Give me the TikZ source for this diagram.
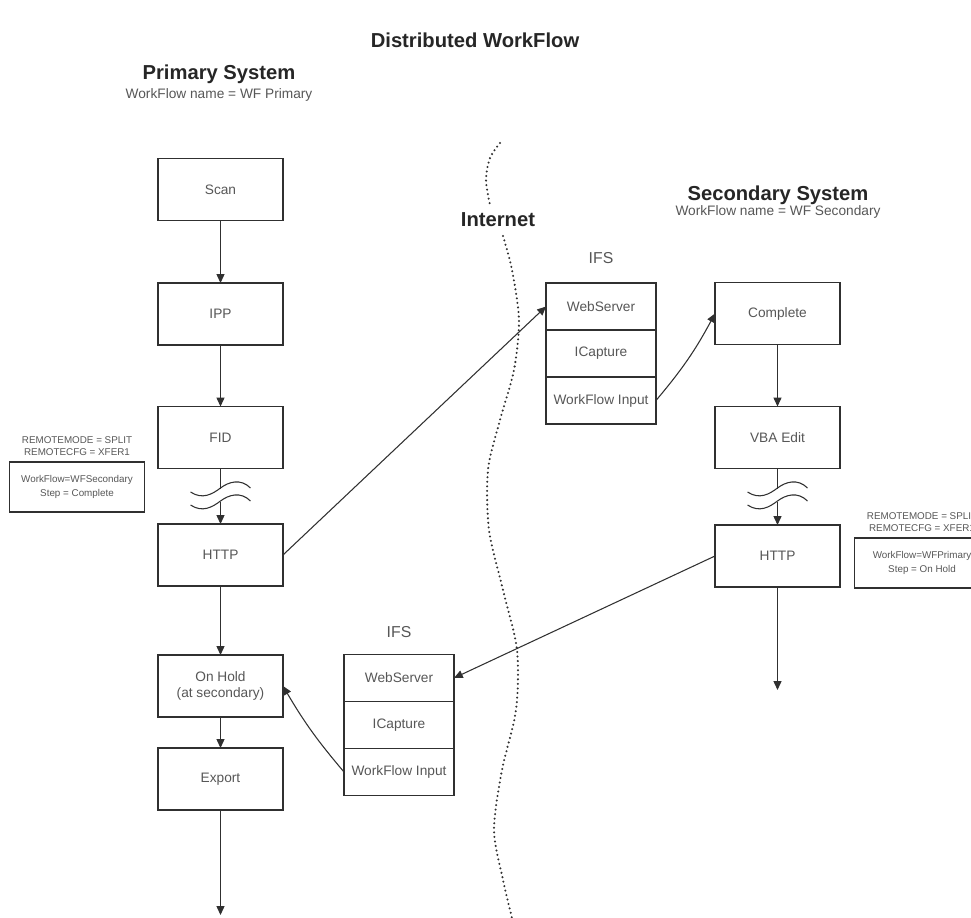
\documentclass[tikz,border=0pt]{standalone}
\usepackage{fontspec}
\setmainfont{Liberation Sans}
\usetikzlibrary{arrows.meta,positioning}
\definecolor{Ink}{HTML}{262626}
\definecolor{Label}{HTML}{575757}
\definecolor{Edge}{HTML}{303030}

\begin{document}
\begin{tikzpicture}[x=0.02cm,y=-0.02cm,every node/.style={font=\fontsize{7.8}{9.5}\selectfont,text=Label},
  box/.style={draw=Edge,line width=1pt,minimum width=2.5cm,minimum height=1.24cm,outer sep=0pt},
  ifsrow/.style={draw=Edge,line width=1pt,minimum width=2.2cm,minimum height=0.94cm,inner sep=0pt,outer sep=0pt},
  note/.style={draw=Edge,line width=0.9pt,minimum width=2.7cm,minimum height=1cm,align=center,inner sep=1pt,font=\fontsize{5.6}{7.5}\selectfont},
  notehd/.style={align=center,inner sep=1pt,font=\fontsize{5.6}{6.8}\selectfont},
  hd/.style={font=\fontsize{11.5}{13}\selectfont\bfseries,text=Ink},
  link/.style={draw=Edge,line width=0.6pt},
  flow/.style={link,-{Triangle[length=5pt,width=4.5pt]}},
  brk/.style={draw=Edge,line width=0.6pt}]
\useasboundingbox[fill=white] (0,0) rectangle (971,918);

% headings
\node[hd] (title) at (475,40) {Distributed WorkFlow};
\node[hd] (prim) at (219,74) {Primary System};
\node (primsub) at (219,95) {WorkFlow name = WF Primary};
\node[hd] (sec) at (778,195) {Secondary System};
\node (secsub) at (778,212) {WorkFlow name = WF Secondary};
\node[hd] (inet) at (498,220) {Internet};

% internet boundary
\draw[Edge,line width=1.3pt,line cap=round,dash pattern=on 0pt off 2.6pt] plot[smooth] coordinates {(500,143) (490,158) (486,180) (490,205)};
\draw[Edge,line width=1.3pt,line cap=round,dash pattern=on 0pt off 2.6pt] plot[smooth] coordinates {(503,236) (512,270) (519,320) (514,370) (500,420) (488,470) (489,530) (503,590) (517,650) (516,710) (502,770) (494,830) (503,880) (512,918)};

% primary workflow
\node[box] (scan) at (220.5,189.5) {Scan};
\node[box] (ipp) at (220.5,314) {IPP};
\node[box] (fid) at (220.5,437.5) {FID};
\node[box] (http1) at (220.5,555) {HTTP};
\node[box,align=center] (hold) at (220.5,686) {On Hold\\(at secondary)};
\node[box] (export) at (220.5,779) {Export};
\coordinate (cut1a) at (220.5,489);
\coordinate (cut1b) at (220.5,502);
\coordinate (primend) at (220.5,915);

\node[note] (note1) at (77,487) {WorkFlow=WFSecondary\\Step = Complete};
\node[notehd,above=2pt of note1] (rem1) {REMOTEMODE = SPLIT\\REMOTECFG = XFER1};

% secondary workflow
\node[box] (complete) at (777.5,313.5) {Complete};
\node[box] (vba) at (777.5,437.5) {VBA Edit};
\node[box] (http2) at (777.5,556) {HTTP};
\coordinate (cut2a) at (777.5,489);
\coordinate (cut2b) at (777.5,502);
\coordinate (secend) at (777.5,690);

\node[note] (note2) at (922,563) {WorkFlow=WFPrimary\\Step = On Hold};
\node[notehd,above=2pt of note2] (rem2) {REMOTEMODE = SPLIT\\REMOTECFG = XFER1};

% IFS stacks
\node (ifs1) at (601,258) {\fontsize{9}{11}\selectfont IFS};
\node[ifsrow] (ws1) at (601,306.5) {WebServer};
\node[ifsrow,below=0pt of ws1] (ic1) {ICapture};
\node[ifsrow,below=0pt of ic1] (wfi1) {WorkFlow Input};

\node (ifs2) at (399,632) {\fontsize{9}{11}\selectfont IFS};
\node[ifsrow] (ws2) at (399,678) {WebServer};
\node[ifsrow,below=0pt of ws2] (ic2) {ICapture};
\node[ifsrow,below=0pt of ic2] (wfi2) {WorkFlow Input};

% connectors
\draw[flow] (scan) -- (ipp);
\draw[flow] (ipp) -- (fid);
\draw[link] (fid) -- (cut1a);
\draw[flow] (cut1b) -- (http1);
\draw[flow] (http1) -- (hold);
\draw[flow] (hold) -- (export);
\draw[flow] (export) -- (primend);

\draw[flow] (complete) -- (vba);
\draw[link] (vba) -- (cut2a);
\draw[flow] (cut2b) -- (http2);
\draw[flow] (http2) -- (secend);

\draw[flow] (http1.east) -- (ws1.west);
\draw[flow] (wfi1.east) to[bend right=6] (complete.west);
\draw[flow] (http2.west) -- (ws2.east);
\draw[flow] (wfi2.west) to[bend left=5] (hold.east);

% break marks
\foreach \cx in {220.5,777.5} {
  \draw[brk] (\cx-30,492) .. controls (\cx-18,500) and (\cx-8,494) .. (\cx,488) .. controls (\cx+8,482) and (\cx+20,478) .. (\cx+30,488);
  \draw[brk] (\cx-30,505) .. controls (\cx-18,513) and (\cx-8,507) .. (\cx,501) .. controls (\cx+8,495) and (\cx+20,491) .. (\cx+30,501);
}
\end{tikzpicture}
\end{document}
